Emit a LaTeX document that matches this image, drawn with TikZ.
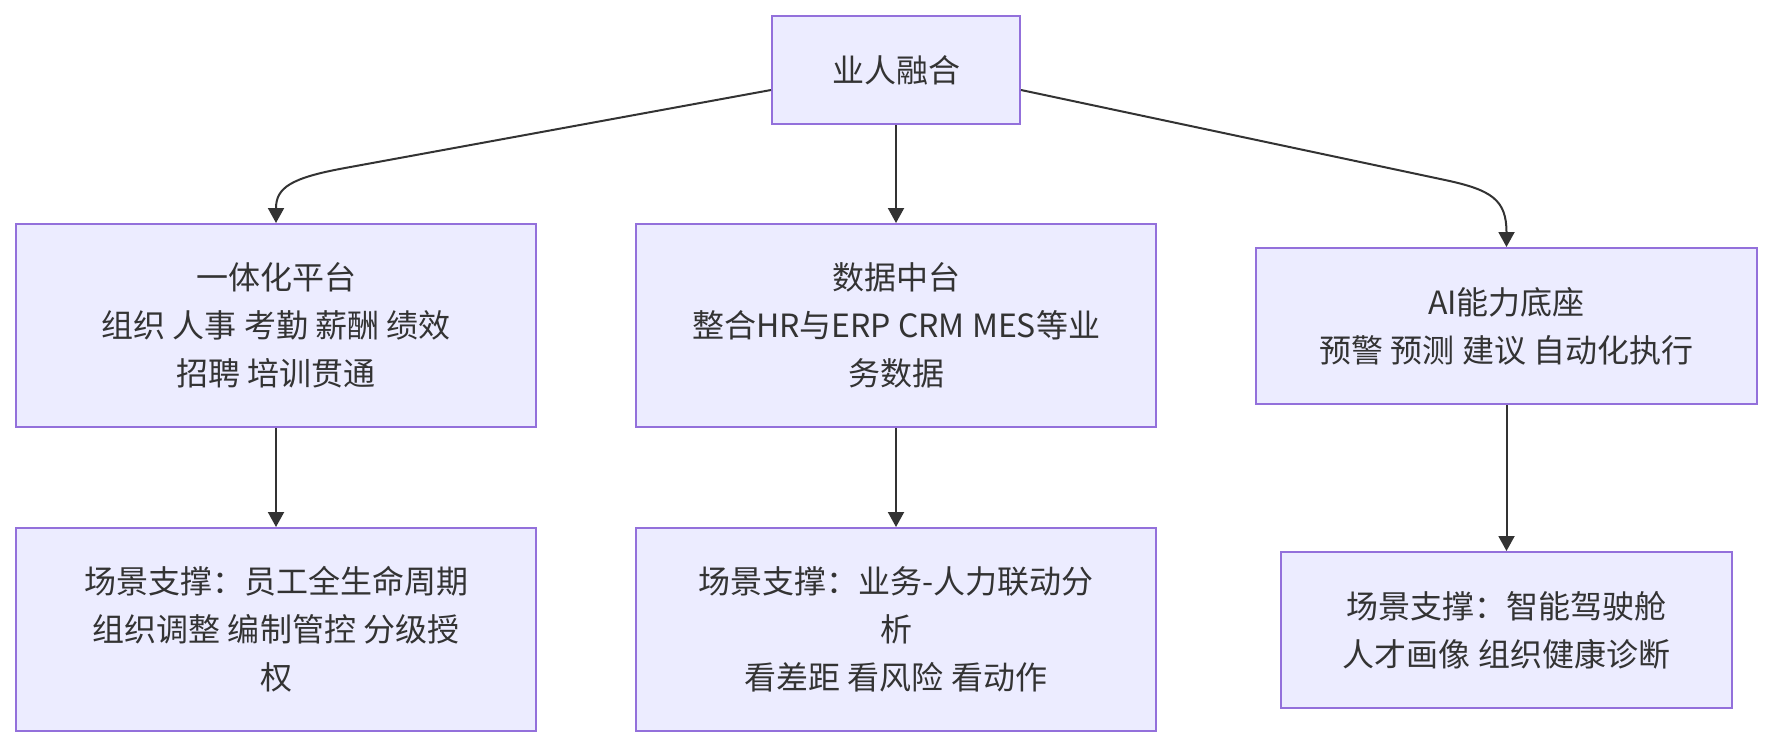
\documentclass[tikz,border=0pt]{standalone}
\usepackage{fontspec}
\setmainfont{Noto Sans CJK SC}
\usetikzlibrary{arrows.meta}
\definecolor{boxfill}{HTML}{ECECFF}
\definecolor{boxline}{HTML}{9370DB}
\definecolor{ink}{HTML}{333333}
\tikzset{
  box/.style={draw=boxline, fill=boxfill, line width=2pt, text=ink, align=center,
    inner sep=0pt, font={\fontsize{32}{48}\selectfont}},
  edge/.style={draw=ink, line width=2pt, -{Triangle[length=15pt,width=16pt]}},
}
\begin{document}
\begin{tikzpicture}[x=1pt,y=-1pt]
\useasboundingbox (0,0) rectangle (1772,748);
\node[box, minimum width=248pt, minimum height=108pt] (top) at (896,70) {业人融合};
\node[box, minimum width=520pt, minimum height=203pt] (p1) at (276,325.5) {一体化平台\\组织 人事 考勤 薪酬 绩效\\招聘 培训贯通};
\node[box, minimum width=520pt, minimum height=203pt] (p2) at (896,325.5) {数据中台\\整合HR与ERP CRM MES等业\\务数据};
\node[box, minimum width=501pt, minimum height=156pt] (p3) at (1506.5,326) {AI能力底座\\预警 预测 建议 自动化执行};
\node[box, minimum width=520pt, minimum height=203pt] (s1) at (276,629.5) {场景支撑：员工全生命周期\\组织调整 编制管控 分级授\\权};
\node[box, minimum width=520pt, minimum height=203pt] (s2) at (896,629.5) {场景支撑：业务-人力联动分\\析\\看差距 看风险 看动作};
\node[box, minimum width=451pt, minimum height=156pt] (s3) at (1506.5,630) {场景支撑：智能驾驶舱\\人才画像 组织健康诊断};
\coordinate (tl) at ([yshift=-20pt]top.west);
\coordinate (tr) at ([yshift=-20pt]top.east);
\draw[edge] (tl) -- (345,168) .. controls (290,178) and (276,188) .. (p1.north);
\draw[edge] (top) -- (p2);
\draw[edge] (tr) -- (1445,180) .. controls (1492,190) and (1506.5,200) .. (p3.north);
\draw[edge] (p1) -- (s1);
\draw[edge] (p2) -- (s2);
\draw[edge] (p3) -- (s3);
\end{tikzpicture}
\end{document}
